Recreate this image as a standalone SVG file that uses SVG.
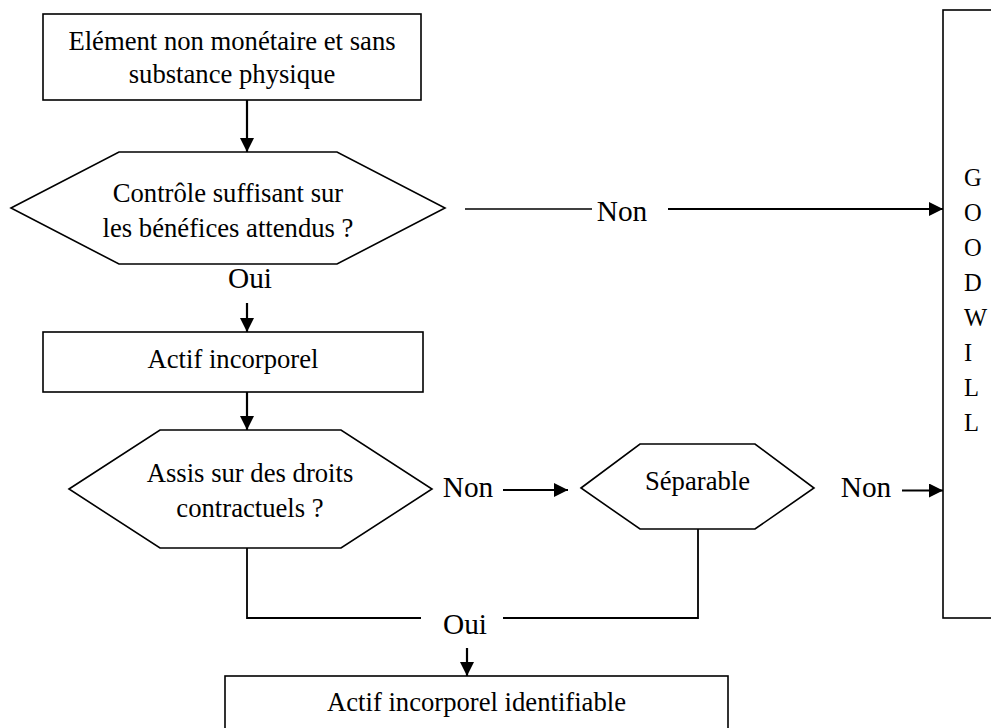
<svg xmlns="http://www.w3.org/2000/svg" width="991" height="728" viewBox="0 0 991 728">
<style>
.shape{fill:#fff;stroke:#000;stroke-width:1.6}
.t{font-family:"Liberation Serif","Times New Roman",serif;font-size:26.67px;fill:#000;text-anchor:middle}
.lbl{font-family:"Liberation Serif","Times New Roman",serif;font-size:29.33px;fill:#000;text-anchor:middle}
.gw{font-family:"Liberation Serif","Times New Roman",serif;font-size:24.5px;fill:#000}
.c{fill:none;stroke:#000;stroke-width:1.8}
.a{fill:none;stroke:#000;stroke-width:2.2;marker-end:url(#ah)}
</style>
<defs>
<marker id="ah" markerUnits="userSpaceOnUse" markerWidth="15" markerHeight="15" refX="14" refY="7" orient="auto">
<path d="M0,0 L14,7 L0,14 z" fill="#000"/>
</marker>
</defs>
<rect width="991" height="728" fill="#fff"/>
<g id="connectors">
<line class="a" x1="247" y1="100" x2="247" y2="152"/>
<line class="c" x1="465" y1="209" x2="592" y2="209" style="stroke-width:1.5"/>
<line class="a" x1="668" y1="209" x2="943" y2="209"/>
<line class="a" x1="247" y1="303" x2="247" y2="332"/>
<line class="a" x1="247" y1="392" x2="247" y2="430"/>
<line class="a" x1="503" y1="490" x2="568" y2="490"/>
<line class="a" x1="902" y1="490.5" x2="943" y2="490.5"/>
<polyline class="c" points="247,548 247,618 421,618"/>
<polyline class="c" points="503,618 698,618 698,529"/>
<line class="a" x1="467" y1="648" x2="467" y2="676"/>
<text class="lbl" x="622" y="221">Non</text>
<text class="lbl" x="250" y="288">Oui</text>
<text class="lbl" x="468" y="497">Non</text>
<text class="lbl" x="866" y="497">Non</text>
<text class="lbl" x="465" y="634">Oui</text>
</g>
<g id="n-element">
<rect class="shape" x="43" y="14" width="378" height="86"/>
<text class="t" x="232" y="50">Elément non monétaire et sans</text>
<text class="t" x="232" y="83">substance physique</text>
</g>
<g id="n-controle">
<polygon class="shape" points="11,208 119,152 337,152 445,208 337,264 119,264"/>
<text class="t" x="228" y="202">Contrôle suffisant sur</text>
<text class="t" x="228" y="237">les bénéfices attendus ?</text>
</g>
<g id="n-actif">
<rect class="shape" x="43" y="332" width="380" height="60"/>
<text class="t" x="233" y="368">Actif incorporel</text>
</g>
<g id="n-assis">
<polygon class="shape" points="69,489 160,430 341,430 432,489 341,548 160,548"/>
<text class="t" x="250" y="482">Assis sur des droits</text>
<text class="t" x="250" y="517">contractuels ?</text>
</g>
<g id="n-separable">
<polygon class="shape" points="581,488 640,444 755,444 814,488 755,529 640,529"/>
<text class="t" x="697.5" y="490">Séparable</text>
</g>
<g id="n-goodwill">
<rect class="shape" x="943" y="10" width="100" height="608"/>
<text class="gw" x="964" y="186">G</text>
<text class="gw" x="964" y="221">O</text>
<text class="gw" x="964" y="256">O</text>
<text class="gw" x="964" y="291">D</text>
<text class="gw" x="964" y="326">W</text>
<text class="gw" x="964" y="361">I</text>
<text class="gw" x="964" y="396">L</text>
<text class="gw" x="964" y="431">L</text>
</g>
<g id="n-identifiable">
<rect class="shape" x="225" y="676" width="503" height="70"/>
<text class="t" x="476.5" y="711">Actif incorporel identifiable</text>
</g>
</svg>
